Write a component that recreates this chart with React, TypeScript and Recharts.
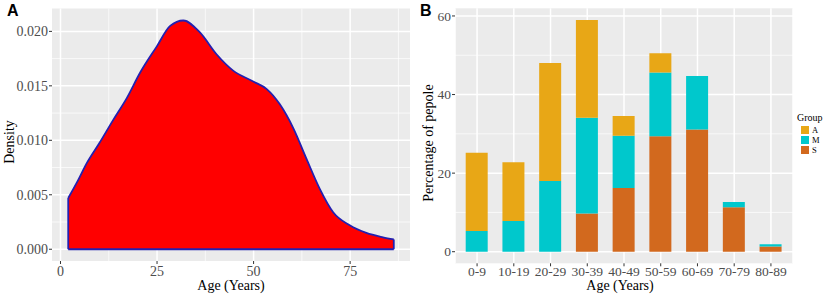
import React from "react";
import {
  AreaChart,
  Area,
  BarChart,
  Bar,
  CartesianGrid,
  XAxis,
  YAxis,
  ReferenceLine,
} from "recharts";

// Panel A: density of age
const densityAges = [2, 4.5, 6.8, 10, 13.7, 17.2, 20.6, 24.9, 28.4, 31.8, 36.1, 40.4, 44.7, 49.9, 53.4, 56.8, 60.3, 63.7, 67.2, 70.6, 74.9, 79.2, 83.5, 86.3];
const densityValues = [0.0047, 0.0063, 0.0079, 0.0097, 0.0119, 0.0139, 0.0162, 0.0186, 0.0205, 0.021, 0.0199, 0.0179, 0.0164, 0.0154, 0.0147, 0.0133, 0.0111, 0.0083, 0.0055, 0.0034, 0.0022, 0.0015, 0.0011, 0.0009];
const densityXTicks = [0, 25, 50, 75];
const densityXMinor = [12.5, 37.5, 62.5, 87.5];
const densityYTicks = [0, 0.005, 0.01, 0.015, 0.02];
const densityYMinor = [0.0025, 0.0075, 0.0125, 0.0175];

// Panel B: percentage of people by age group
const ageGroups = ["0-9", "10-19", "20-29", "30-39", "40-49", "50-59", "60-69", "70-79", "80-89"];
const groupS = [0, 0, 0, 9.7, 16.2, 29.4, 31.1, 11.3, 1.3];
const groupM = [5.3, 7.8, 18.0, 24.4, 13.3, 16.2, 13.6, 1.35, 0.6];
const groupA = [19.9, 14.95, 30.05, 24.9, 5.05, 4.9, 0, 0, 0];
const pctTicks = [0, 20, 40, 60];
const pctMinor = [10, 30, 50];

const groups = [
  { key: "A", color: "#E8A716" },
  { key: "M", color: "#00C8CC" },
  { key: "S", color: "#D2691E" },
];

const densityData = densityAges.map((age, i) => ({ age, density: densityValues[i] }));
const barData = ageGroups.map((age, i) => ({ age, S: groupS[i], M: groupM[i], A: groupA[i] }));

const serif = "'Liberation Serif', 'Times New Roman', serif";
const outline = "#2320B0";

// tick text drawn by hand so the serif font sticks
const SerifTick = ({ x, y, payload, textAnchor, vertical, size = 14, fmt }: any) => (
  <text
    x={x}
    y={y}
    dy={vertical ? "0.35em" : "0.75em"}
    textAnchor={textAnchor}
    style={{ fontFamily: serif, fontSize: size, fill: "#4D4D4D" }}
  >
    {fmt ? fmt(payload.value) : payload.value}
  </text>
);

const Title = ({ x, y, rotate = 0, size = 14, children }: any) => (
  <div
    style={{
      position: "absolute",
      left: x,
      top: y,
      transform: `translate(-50%, -50%) rotate(${rotate}deg)`,
      fontFamily: serif,
      fontSize: size,
      color: "#000",
      whiteSpace: "nowrap",
      lineHeight: 1,
    }}
  >
    {children}
  </div>
);

const PanelLetter = ({ x, children }: any) => (
  <div
    style={{
      position: "absolute",
      left: x,
      top: 3,
      fontFamily: "'Liberation Sans', Arial, sans-serif",
      fontWeight: "bold",
      fontSize: 16,
      lineHeight: 1,
    }}
  >
    {children}
  </div>
);

const first = densityData[0];
const last = densityData[densityData.length - 1];

const App: React.FC = () => {
  return (
    <div style={{ position: "absolute", left: 0, top: 0, width: 825, height: 299, background: "#fff", overflow: "hidden", fontFamily: serif }}>
      <div style={{ position: "absolute", left: 0, top: 0 }}>
        <AreaChart width={410} height={299} data={densityData} margin={{ top: 8.5, right: 0, bottom: 0, left: 0 }} style={{ fontFamily: serif }}>
          <CartesianGrid
            fill="#EBEBEB"
            stroke="#fff"
            strokeWidth={0.7}
            horizontalValues={densityYMinor}
            verticalValues={densityXMinor}
          />
          <CartesianGrid stroke="#fff" strokeWidth={1.5} horizontalValues={densityYTicks} verticalValues={densityXTicks} />
          <XAxis
            dataKey="age"
            type="number"
            domain={[-2.2, 90.5]}
            allowDataOverflow
            ticks={densityXTicks}
            height={38}
            axisLine={false}
            tickLine={{ stroke: "#333" }}
            tickSize={3}
            tickMargin={1}
            tick={<SerifTick />}
          />
          <YAxis
            type="number"
            domain={[-0.00108, 0.0221]}
            allowDataOverflow
            ticks={densityYTicks}
            width={52}
            axisLine={false}
            tickLine={{ stroke: "#333" }}
            tickSize={3}
            tickMargin={1}
            tick={<SerifTick vertical fmt={(v: number) => v.toFixed(3)} />}
          />
          <Area
            type="monotone"
            dataKey="density"
            baseValue={0}
            fill="#FF0000"
            fillOpacity={1}
            stroke={outline}
            strokeWidth={1.8}
            isAnimationActive={false}
          />
          <ReferenceLine segment={[{ x: first.age, y: 0 }, { x: first.age, y: first.density }]} stroke={outline} strokeWidth={1.8} />
          <ReferenceLine segment={[{ x: last.age, y: 0 }, { x: last.age, y: last.density }]} stroke={outline} strokeWidth={1.8} />
          <ReferenceLine segment={[{ x: first.age, y: 0 }, { x: last.age, y: 0 }]} stroke={outline} strokeWidth={1.8} />
        </AreaChart>
      </div>

      <div style={{ position: "absolute", left: 410, top: 0 }}>
        <BarChart width={383} height={299} data={barData} margin={{ top: 8.3, right: 0, bottom: 0, left: 0 }} barSize={22} style={{ fontFamily: serif }}>
          <CartesianGrid fill="#EBEBEB" stroke="#fff" strokeWidth={0.7} horizontalValues={pctMinor} vertical={false} />
          <CartesianGrid stroke="#fff" strokeWidth={1.5} horizontalValues={pctTicks} />
          <XAxis
            dataKey="age"
            height={35.7}
            padding={{ left: 3.7, right: 3.7 }}
            axisLine={false}
            tickLine={{ stroke: "#333" }}
            tickSize={3}
            tickMargin={0}
            interval={0}
            tick={<SerifTick size={13.5} />}
          />
          <YAxis
            type="number"
            domain={[-2.95, 61.95]}
            allowDataOverflow
            ticks={pctTicks}
            width={45}
            axisLine={false}
            tickLine={{ stroke: "#333" }}
            tickSize={3}
            tickMargin={1}
            tick={<SerifTick vertical size={13.5} />}
          />
          <Bar dataKey="S" stackId="g" fill={groups[2].color} isAnimationActive={false} />
          <Bar dataKey="M" stackId="g" fill={groups[1].color} isAnimationActive={false} />
          <Bar dataKey="A" stackId="g" fill={groups[0].color} isAnimationActive={false} />
        </BarChart>
      </div>

      <PanelLetter x={7}>A</PanelLetter>
      <PanelLetter x={420}>B</PanelLetter>

      <Title x={231} y={286}>Age (Years)</Title>
      <Title x={10} y={142} rotate={-90}>Density</Title>
      <Title x={620} y={286}>Age (Years)</Title>
      <Title x={429} y={143} rotate={-90}>Percentage of pepole</Title>

      <div style={{ position: "absolute", left: 797, top: 112, color: "#000" }}>
        <div style={{ fontSize: 10, lineHeight: "11px", marginBottom: 2 }}>Group</div>
        {groups.map((g) => (
          <div key={g.key} style={{ display: "flex", alignItems: "center", height: 10, marginLeft: 4 }}>
            <div style={{ width: 8, height: 8, background: g.color, marginRight: 3 }} />
            <span style={{ fontSize: 8.5, lineHeight: "10px" }}>{g.key}</span>
          </div>
        ))}
      </div>
    </div>
  );
};

export default App;
